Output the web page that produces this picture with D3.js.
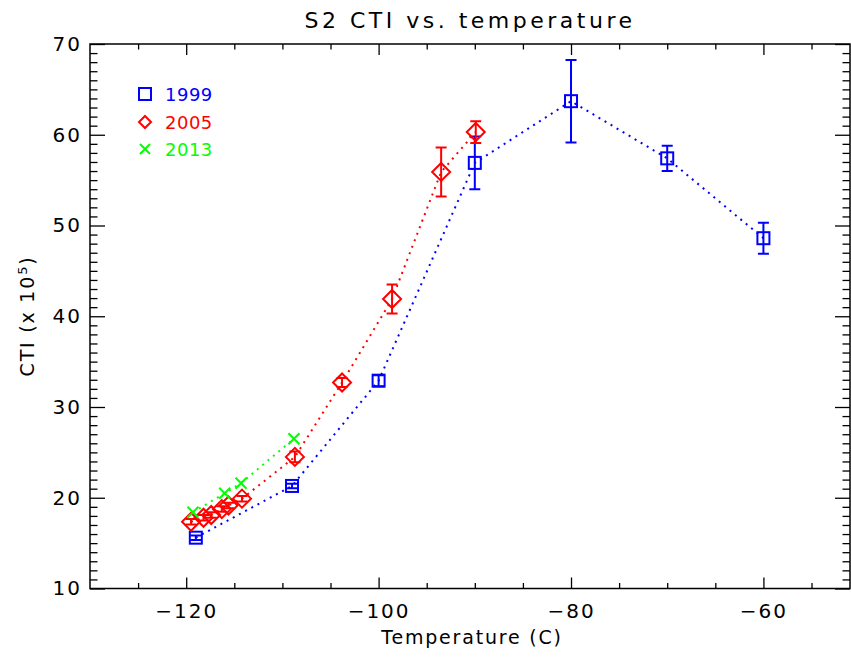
<!DOCTYPE html>
<html>
<head>
<meta charset="utf-8">
<script src="https://cdn.jsdelivr.net/npm/d3@7/dist/d3.min.js"></script>
<style>
  html, body { margin: 0; padding: 0; background: #fff; }
  svg text { font-family: "DejaVu Sans", sans-serif; }
</style>
</head>
<body>
<svg id="chart" width="851" height="662"></svg>
<script>
// Series: CTI (x 1e5) measured at several focal-plane temperatures
const series = ["1999", "2005", "2013"];
const seriesColors = ["#0000ff", "#ff0000", "#00ff00"];

const temp1999 = [-119, -109, -100, -90, -80, -70, -60];
const cti1999  = [15.6, 21.3, 32.9, 56.9, 63.7, 57.4, 48.6];
const err1999  = [0.25, 0.25, 0.6, 2.9, 4.55, 1.4, 1.7];

const temp2005 = [-119.5, -118.2, -117.4, -116.3, -115.6, -114.2, -108.7, -103.8, -98.6, -93.5, -89.9];
const cti2005  = [17.35, 17.8, 18.1, 18.75, 19.15, 19.9, 24.5, 32.7, 41.9, 55.9, 60.3];
const err2005  = [0.3, 0.3, 0.3, 0.3, 0.3, 0.3, 0.6, 0.5, 1.6, 2.7, 1.2];

const temp2013 = [-119.3, -116.0, -114.3, -108.8];
const cti2013  = [18.4, 20.5, 21.6, 26.5];

const xMajorTicks = [-120, -100, -80, -60];
const yMajorTicks = [10, 20, 30, 40, 50, 60, 70];

const svg = d3.select("#chart");
const plotLeft = 90, plotRight = 850, plotTop = 44, plotBottom = 588.5;

const x = d3.scaleLinear().domain([-130, -51]).range([plotLeft, plotRight]);
const y = d3.scaleLinear().domain([10, 70]).range([plotBottom, plotTop]);

const xMinor = d3.range(-125, -51, 5).filter(v => !xMajorTicks.includes(v));
const yMinor = d3.range(11, 70, 1).filter(v => !yMajorTicks.includes(v));

function styleAxis(g) {
  g.select(".domain").remove();
  g.selectAll(".tick line").attr("stroke", "#000").attr("stroke-width", 1.3);
  g.selectAll(".tick text").attr("fill", "#000").attr("font-size", 20).attr("letter-spacing", 2);
}

// bottom axis (labelled) + minor ticks
svg.append("g").attr("transform", `translate(0,${plotBottom})`)
  .call(d3.axisBottom(x).tickValues(xMajorTicks).tickSize(-11).tickPadding(15))
  .call(styleAxis);
svg.append("g").attr("transform", `translate(0,${plotBottom})`)
  .call(d3.axisBottom(x).tickValues(xMinor).tickSize(-5.5).tickFormat(""))
  .call(styleAxis);
// top axis
svg.append("g").attr("transform", `translate(0,${plotTop})`)
  .call(d3.axisTop(x).tickValues(xMajorTicks).tickSize(-11).tickFormat(""))
  .call(styleAxis);
svg.append("g").attr("transform", `translate(0,${plotTop})`)
  .call(d3.axisTop(x).tickValues(xMinor).tickSize(-5.5).tickFormat(""))
  .call(styleAxis);
// left axis (labelled)
svg.append("g").attr("transform", `translate(${plotLeft},0)`)
  .call(d3.axisLeft(y).tickValues(yMajorTicks).tickSize(-15).tickPadding(8))
  .call(styleAxis);
svg.append("g").attr("transform", `translate(${plotLeft},0)`)
  .call(d3.axisLeft(y).tickValues(yMinor).tickSize(-7.5).tickFormat(""))
  .call(styleAxis);
// right axis
svg.append("g").attr("transform", `translate(${plotRight},0)`)
  .call(d3.axisRight(y).tickValues(yMajorTicks).tickSize(-15).tickFormat(""))
  .call(styleAxis);
svg.append("g").attr("transform", `translate(${plotRight},0)`)
  .call(d3.axisRight(y).tickValues(yMinor).tickSize(-7.5).tickFormat(""))
  .call(styleAxis);

// plot frame
svg.append("rect")
  .attr("x", plotLeft).attr("y", plotTop)
  .attr("width", plotRight - plotLeft).attr("height", plotBottom - plotTop)
  .attr("fill", "none").attr("stroke", "#000").attr("stroke-width", 1.5);

// titles
svg.append("text").attr("x", 470).attr("y", 28)
  .attr("text-anchor", "middle").attr("font-size", 22).attr("letter-spacing", 3.5)
  .text("S2 CTI vs. temperature");
svg.append("text").attr("x", 472).attr("y", 644)
  .attr("text-anchor", "middle").attr("font-size", 19).attr("letter-spacing", 1.8)
  .text("Temperature (C)");
const yt = svg.append("text")
  .attr("transform", "translate(34,316) rotate(-90)")
  .attr("text-anchor", "middle").attr("font-size", 19).attr("letter-spacing", 1.8);
yt.append("tspan").text("CTI (x 10");
yt.append("tspan").attr("baseline-shift", "super").attr("font-size", 13).text("5");
yt.append("tspan").text(")");

// symbols
function drawSymbol(g, kind, cx, cy, color, size) {
  if (kind === "square") {
    const r = size || 6;
    g.append("rect").attr("x", cx - r).attr("y", cy - r).attr("width", 2 * r).attr("height", 2 * r)
      .attr("fill", "none").attr("stroke", color).attr("stroke-width", 2);
  } else if (kind === "diamond") {
    const r = size || 9;
    g.append("path").attr("d", `M${cx},${cy - r}L${cx + r},${cy}L${cx},${cy + r}L${cx - r},${cy}Z`)
      .attr("fill", "none").attr("stroke", color).attr("stroke-width", 2);
  } else {
    const r = size || 5.5;
    g.append("path").attr("d", `M${cx - r},${cy - r}L${cx + r},${cy + r}M${cx - r},${cy + r}L${cx + r},${cy - r}`)
      .attr("fill", "none").attr("stroke", color).attr("stroke-width", 2);
  }
}

const line = d3.line().x(d => x(d[0])).y(d => y(d[1]));
const plotData = [
  { t: temp1999, v: cti1999, e: err1999, color: seriesColors[0], kind: "square" },
  { t: temp2005, v: cti2005, e: err2005, color: seriesColors[1], kind: "diamond" },
  { t: temp2013, v: cti2013, e: null,    color: seriesColors[2], kind: "x" }
];

plotData.forEach(s => {
  const g = svg.append("g");
  g.append("path").datum(s.t.map((t, i) => [t, s.v[i]]))
    .attr("d", line).attr("fill", "none")
    .attr("stroke", s.color).attr("stroke-width", 2).attr("stroke-dasharray", "2,5");
  s.t.forEach((t, i) => {
    const cx = x(t), cy = y(s.v[i]);
    if (s.e) {
      const y1 = y(s.v[i] + s.e[i]), y2 = y(s.v[i] - s.e[i]);
      g.append("path").attr("d", `M${cx},${y1}V${y2}M${cx - 5.5},${y1}H${cx + 5.5}M${cx - 5.5},${y2}H${cx + 5.5}`)
        .attr("fill", "none").attr("stroke", s.color).attr("stroke-width", 2);
    }
    drawSymbol(g, s.kind, cx, cy, s.color);
  });
});

// legend
const legendRows = [94, 122, 149];
const legendSizes = [6, 6, 5];
plotData.forEach((s, i) => {
  const g = svg.append("g");
  drawSymbol(g, s.kind, 145, legendRows[i], s.color, legendSizes[i]);
  g.append("text").attr("x", 165).attr("y", legendRows[i] + 7)
    .attr("fill", s.color).attr("font-size", 18).attr("letter-spacing", 0.5).text(series[i]);
});
</script>
</body>
</html>
